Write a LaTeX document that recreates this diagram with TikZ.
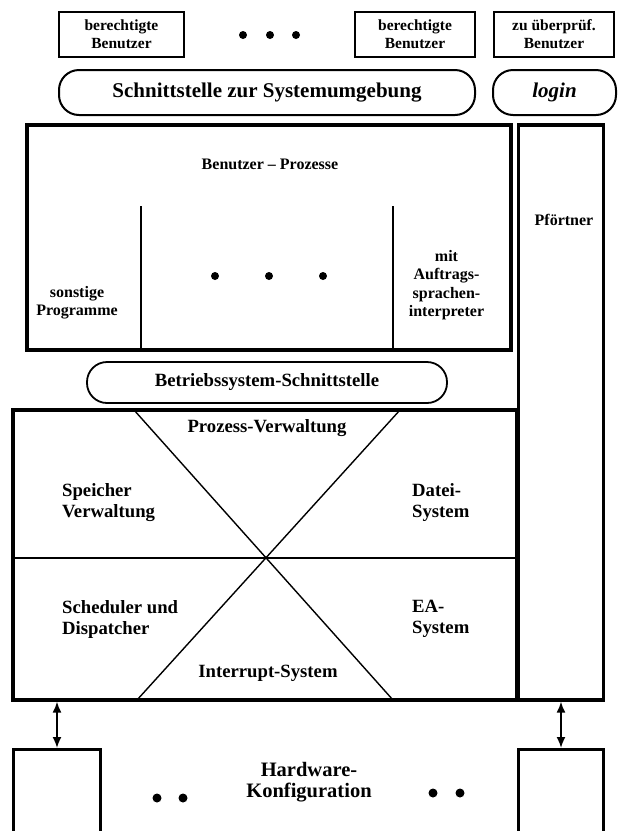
\documentclass[tikz,border=0pt]{standalone}
\usepackage{fontspec}
\setmainfont{Liberation Serif}
\usetikzlibrary{positioning, arrows.meta}
\tikzset{
  userbox/.style={draw, line width=1.7pt, minimum height=45pt, align=center,
    inner sep=0pt, font=\fontsize{15.5}{18}\selectfont\bfseries},
  pill/.style={draw, line width=2pt, rounded corners=20pt, inner sep=0pt,
    font=\fontsize{21}{24}\selectfont\bfseries},
  frame/.style={draw, line width=3.2pt, inner sep=0pt},
  lbl/.style={align=center, inner sep=0pt, font=\fontsize{16}{18.5}\selectfont\bfseries},
  klbl/.style={align=left, inner sep=0pt, anchor=west, font=\fontsize{18.7}{21}\selectfont\bfseries},
  sep/.style={line width=1.6pt},
  link/.style={{Latex[length=11pt,width=9pt]}-{Latex[length=11pt,width=9pt]}, line width=1.8pt}
}
\begin{document}
\begin{tikzpicture}[x=1pt, y=-1pt]
  \useasboundingbox (0,0) rectangle (618,831);
  \clip (0,0) rectangle (618,831);

  % users
  \node[userbox, minimum width=125pt] (u1) at (121.5,34.5) {berechtigte\\Benutzer};
  \node[userbox, minimum width=120pt] (u2) at (415,34.5) {berechtigte\\Benutzer};
  \node[userbox, minimum width=120pt] (u3) at (554,34.5) {zu überprüf.\\Benutzer};
  \foreach \x in {243,270,296} \fill (\x,35) circle (4pt);

  % interfaces
  \node[pill, minimum width=416pt, minimum height=45pt] (env) at (267,92.5) {Schnittstelle zur Systemumgebung};
  \node[pill, minimum width=123pt, minimum height=45pt] (login) at (554.5,92.5) {\textit{login}};

  % user processes
  \node[frame, minimum width=484pt, minimum height=225pt] (procs) at (269,237.5) {};
  \node[lbl] (procsl) at (270,164) {Benutzer -- Prozesse};
  \coordinate (s1) at (141,206);
  \coordinate (s2) at (393,206);
  \draw[sep] (s1) -- (s1 |- procs.south);
  \draw[sep] (s2) -- (s2 |- procs.south);
  \node[lbl] (other) at (77,302.5) {sonstige\\Programme};
  \node[lbl] (shell) at (446.5,285) {mit\\Auftrags-\\sprachen-\\interpreter};
  \foreach \x in {215,269,323} \fill (\x,276) circle (4pt);

  % gatekeeper
  \node[frame, minimum width=85pt, minimum height=575pt] (gate) at (561,412.5) {};
  \node[lbl] (gatel) at (564,220) {Pförtner};

  \node[pill, line width=1.8pt, minimum width=360pt, minimum height=41pt,
    font=\fontsize{18.7}{21}\selectfont\bfseries] (osif) at (267,382.5) {Betriebssystem-Schnittstelle};

  % kernel
  \node[frame, minimum width=504pt, minimum height=290pt] (kern) at (265,555) {};
  \coordinate (ml) at (13,558);
  \coordinate (mr) at (517,558);
  \draw[line width=2pt] (ml) -- (mr);
  \coordinate (x1) at (134,410);
  \coordinate (x2) at (393,700);
  \coordinate (x3) at (400,410);
  \coordinate (x4) at (137,700);
  \draw[line width=1.4pt] (x1) -- (x2) (x3) -- (x4);
  \node[klbl, anchor=center, align=center] (pv) at (267,428) {Prozess-Verwaltung};
  \node[klbl] (mem) at (62,503) {Speicher\\Verwaltung};
  \node[klbl] (fs) at (412,503) {Datei-\\System};
  \node[klbl] (sched) at (62,619) {Scheduler und\\Dispatcher};
  \node[klbl] (io) at (412,619) {EA-\\System};
  \node[klbl, anchor=center, align=center] (irq) at (268,673) {Interrupt-System};

  % hardware
  \node[frame, minimum width=87pt, minimum height=120pt, anchor=north] (hwl) at (57,748) {};
  \node[frame, minimum width=85pt, minimum height=120pt, anchor=north] (hwr) at (561,748) {};
  \draw[link] (hwl.north |- kern.south) -- (hwl.north);
  \draw[link] (gate.south) -- (hwr.north);
  \node[align=center, inner sep=0pt, font=\fontsize{20.5}{21.5}\selectfont\bfseries] (hw) at (309,782) {Hardware-\\Konfiguration};
  \foreach \x in {157,183} \fill (\x,798) circle (4.5pt);
  \foreach \x in {433,460} \fill (\x,793) circle (4.5pt);
\end{tikzpicture}
\end{document}
